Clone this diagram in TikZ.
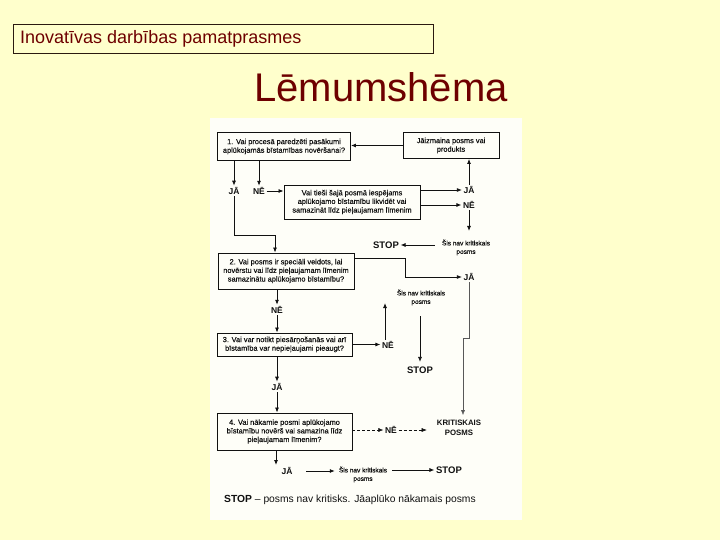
\documentclass[tikz,border=0pt]{standalone}
\usepackage{fontspec}
\setmainfont{Liberation Sans}
\newfontfamily\scanfont[FakeBold=0.35]{Liberation Sans}
\usetikzlibrary{arrows.meta,calc}
\definecolor{bgyellow}{HTML}{FFFFCC}
\definecolor{maroon}{HTML}{6E0000}
\definecolor{scanwhite}{HTML}{FEFEF8}
\definecolor{ink}{HTML}{111111}
\definecolor{hdrline}{HTML}{2B1A10}
\begin{document}
\begin{tikzpicture}[x=1pt,y=-1pt,
  box/.style={draw=ink, text=ink, line width=0.9pt, inner sep=0pt, align=center, font=\scanfont\fontsize{7.4}{8.6}\selectfont},
  lbl/.style={text=ink, font=\bfseries\fontsize{8.5}{9}\selectfont, inner sep=1.5pt},
  stoplbl/.style={text=ink, font=\bfseries\fontsize{9.5}{10}\selectfont, inner sep=1.5pt},
  krit/.style={text=ink, align=center, font=\bfseries\fontsize{7.8}{10}\selectfont, inner sep=1pt},
  note/.style={text=ink, align=center, font=\scanfont\fontsize{6.5}{8.5}\selectfont, inner sep=1pt},
  arr/.style={draw=ink, -{Latex[length=5pt,width=4pt]}, line width=0.8pt},
  thinarr/.style={draw=ink!70, -{Latex[length=5pt,width=4pt]}, line width=0.4pt},
  dasharr/.style={draw=ink, -{Latex[length=5pt,width=4pt]}, line width=0.5pt, densely dashed}]
\useasboundingbox (0,0) rectangle (720,540);
\fill[bgyellow] (0,0) rectangle (720,540);
\fill[scanwhite] (210,118) rectangle (522,520);
% header
\node[draw=hdrline, line width=0.8pt, minimum width=420pt, minimum height=29pt, inner sep=0pt, anchor=north west] (hdr) at (13,24) {};
\node[anchor=west, text=maroon, font=\fontsize{18}{20}\selectfont, inner sep=0pt] (hdrtext) at (20,39) {Inovatīvas darbības pamatprasmes};
\node[anchor=base, text=maroon, font=\fontsize{40}{44}\selectfont, inner sep=0pt] (title) at (381,102) {Lēmumshēma};
% boxes
\node[box, minimum width=133pt, minimum height=28pt] (b1) at (284,146.5) {1. Vai procesā paredzēti pasākumi\\aplūkojamās bīstamības novēršanai?};
\node[box, minimum width=96pt, minimum height=26pt] (jz) at (451,145.5) {Jāizmaina posms vai\\produkts};
\node[box, minimum width=136pt, minimum height=34pt] (b1b) at (352,202) {Vai tieši šajā posmā iespējams\\aplūkojamo bīstamību likvidēt vai\\samazināt līdz pieļaujamam līmenim};
\node[box, minimum width=136pt, minimum height=36pt] (b2) at (286,271) {2. Vai posms ir speciāli veidots, lai\\novērstu vai līdz pieļaujamam līmenim\\samazinātu aplūkojamo bīstamību?};
\node[box, minimum width=135pt, minimum height=23pt] (b3) at (284.5,344.5) {3. Vai var notikt piesārņošanās vai arī\\bīstamība var nepieļaujami pieaugt?};
\node[box, minimum width=135pt, minimum height=37pt] (b4) at (284.5,431.5) {4. Vai nākamie posmi aplūkojamo\\bīstamību novērš vai samazina līdz\\pieļaujamam līmenim?};
% labels
\node[lbl] (ja1) at (234,191) {JĀ};
\node[lbl] (ne1) at (259,191) {NĒ};
\node[lbl] (ja2) at (469,190) {JĀ};
\node[lbl] (ne2) at (469,205) {NĒ};
\node[note] (sis1) at (466,247.5) {Šis nav kritiskais\\posms};
\node[stoplbl] (stop1) at (386,245) {STOP};
\node[lbl] (ja3) at (469,277) {JĀ};
\node[lbl] (ne3) at (277,310) {NĒ};
\node[note] (sis2) at (421,297.5) {Šis nav kritiskais\\posms};
\node[lbl] (ne4) at (388,345) {NĒ};
\node[stoplbl] (stop2) at (420,370) {STOP};
\node[lbl] (ja4) at (277,387) {JĀ};
\node[krit] (kp) at (459,428) {KRITISKAIS\\POSMS};
\node[lbl] (ne5) at (391,430) {NĒ};
\node[lbl] (ja5) at (287,471) {JĀ};
\node[note] (sis3) at (363,474.5) {Šis nav kritiskais\\posms};
\node[stoplbl] (stop3) at (449,470) {STOP};
\node[anchor=west, text=ink, font=\fontsize{10.3}{12}\selectfont, inner sep=0pt] (legend) at (224,500) {\textbf{STOP} -- posms nav kritisks. Jāaplūko nākamais posms};
% coordinates
\coordinate (k1) at (275,235);
\coordinate (k2) at (405,258);
\coordinate (k3) at (463,338);
\coordinate (t1) at (469,231);
\coordinate (t2) at (385,303);
\coordinate (t3) at (276,465);
% connectors
\draw[arr] (jz.west) -- (jz.west -| b1.east);
\draw[arr] (b1.south -| ja1) -- (ja1.north);
\draw[arr] (b1.south -| ne1) -- (ne1.north);
\draw[arr] (ne1.east) -- (ne1.east -| b1b.west);
\draw[arr] (b1b.east |- ja2) -- (ja2.west);
\draw[arr] (b1b.east |- ne2) -- (ne2.west);
\draw[arr] (ja2.north) -- (ja2.north |- jz.south);
\draw[arr] (ne2.south) -- (t1);
\draw[arr] ([xshift=-6pt]sis1.west |- stop1.east) -- (stop1.east);
\draw[arr] (ja1.south) |- (k1) -- (k1 |- b2.north);
\draw[arr] (b2.east |- k2) -- (k2) |- (ja3.west);
\draw[arr] (b2.south -| ne3) -- (ne3.north);
\draw[arr] (ne3.south) -- (ne3.south |- b3.north);
\draw[arr] (b3.east) -- (b3.east -| ne4.west);
\draw[arr] (ne4.north -| t2) -- (t2);
\draw[arr] ([yshift=-10pt]sis2.south -| stop2.north) -- ([yshift=3pt]stop2.north);
\draw[arr] (b3.south -| ja4) -- (ja4.north);
\draw[arr] (ja4.south) -- (ja4.south |- b4.north);
\draw[thinarr] (ja3.south) -- (ja3.south |- k3) -- (k3) -- ([yshift=4pt]kp.north -| k3);
\draw[dasharr] (b4.east |- ne5) -- (ne5.west);
\draw[dasharr] (ne5.east) -- ([xshift=-9pt]kp.west |- ne5);
\draw[arr] (b4.south -| t3) -- (t3);
\draw[arr] ([xshift=12pt]ja5.east) -- ([xshift=-3pt]sis3.west |- ja5);
\draw[arr] ([xshift=4pt]sis3.east |- stop3) -- (stop3.west);
\end{tikzpicture}
\end{document}
